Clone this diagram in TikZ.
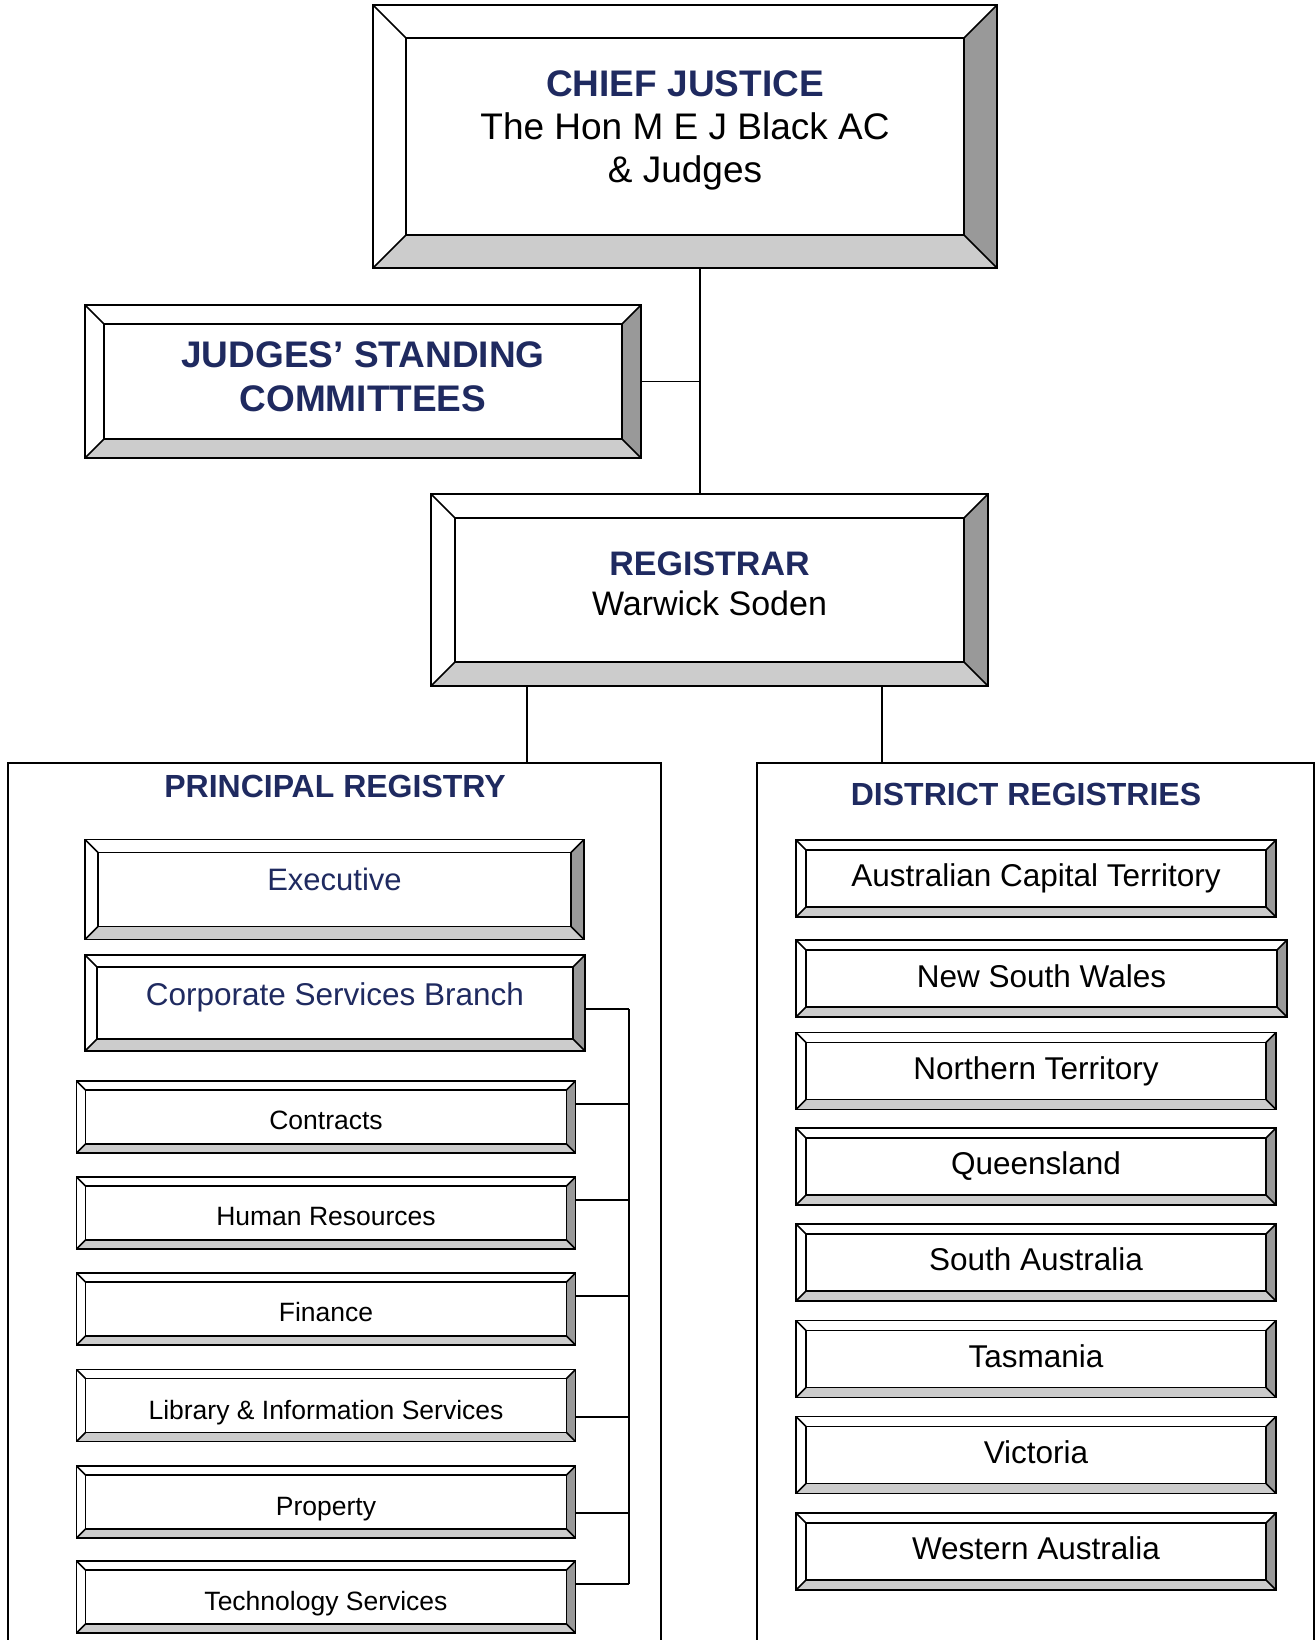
\documentclass[tikz,border=0pt]{standalone}
\usepackage{fontspec}
\setmainfont{Liberation Sans}
\usetikzlibrary{calc}
\definecolor{navy}{RGB}{31,42,96}
\definecolor{bevdark}{RGB}{153,153,153}
\definecolor{bevlight}{RGB}{204,204,204}
\tikzstyle{line}=[-, line width=1.5pt]
\tikzset{
  bev/.store in=\bw, bev=10pt,
  bevel/.style={draw, line width=1.5pt, inner sep=0pt, bev=#1,
    path picture={
      \coordinate (o1) at (path picture bounding box.north west);
      \coordinate (o2) at (path picture bounding box.north east);
      \coordinate (o3) at (path picture bounding box.south east);
      \coordinate (o4) at (path picture bounding box.south west);
      \coordinate (i1) at ($(o1)+(\bw,-\bw)$);
      \coordinate (i2) at ($(o2)+(-\bw,-\bw)$);
      \coordinate (i3) at ($(o3)+(-\bw,\bw)$);
      \coordinate (i4) at ($(o4)+(\bw,\bw)$);
      \fill[bevdark] (o2) -- (o3) -- (i3) -- (i2) -- cycle;
      \fill[bevlight] (o3) -- (o4) -- (i4) -- (i3) -- cycle;
      \draw (o1) -- (i1) (o2) -- (i2) (o3) -- (i3) (o4) -- (i4);
      \draw (i1) -- (i2) -- (i3) -- (i4) -- cycle;
    }},
  subbox/.style={bevel=9pt, minimum width=499pt, minimum height=72pt},
  distbox/.style={bevel=10pt, minimum width=480pt, minimum height=77pt},
  subtext/.style={font=\fontsize{26.5}{30}\selectfont},
  disttext/.style={font=\fontsize{31.5}{36}\selectfont},
  frame/.style={draw, line width=1.5pt, inner sep=0pt},
  title/.style={text=navy, font=\fontsize{32}{36}\selectfont\bfseries}
}

\begin{document}
\begin{tikzpicture}[x=1pt,y=1pt]
  \path[use as bounding box, fill=white] (0,0) rectangle (1316,-1640);
  \clip (0,0) rectangle (1316,-1640);

  % top of the chart
  \node[bevel=33pt, minimum width=624pt, minimum height=263pt] (chief)
  at (685,-136.5) {};
  \node[align=center, font=\fontsize{37}{43}\selectfont] (chieftext)
  at ($(chief)+(0,6)$)
  {\textcolor{navy}{\bfseries CHIEF JUSTICE}\\The Hon M E J Black AC\\\& Judges};
  \node[bevel=19pt, minimum width=556pt, minimum height=153pt] (jsc)
  at (363,-381.5) {};
  \node[align=center, text=navy, font=\fontsize{37}{44}\selectfont\bfseries]
  (jsctext) at ($(jsc)+(0,5)$) {JUDGES’ STANDING\\COMMITTEES};
  \node[bevel=24pt, minimum width=557pt, minimum height=192pt] (registrar)
  at (709.5,-590) {};
  \node[align=center, font=\fontsize{34}{40}\selectfont] (regtext)
  at ($(registrar)+(0,6)$)
  {\textcolor{navy}{\bfseries REGISTRAR}\\Warwick Soden};

  \coordinate (spine) at (700,0);
  \draw[line] (chief.south -| spine) -- (registrar.north -| spine);
  \draw[line] (jsc.east) -- (jsc.east -| spine);

  % registries
  \node[frame, minimum width=653pt, minimum height=897pt] (principal)
  at (334.5,-1211.5) {};
  \node[frame, minimum width=557pt, minimum height=897pt] (district)
  at (1035.5,-1211.5) {};
  \node[title] (ptitle) at ($(principal.north)+(0.5,-24)$) {PRINCIPAL REGISTRY};
  \node[title] (dtitle) at ($(district.north)+(-9.5,-32)$) {DISTRICT REGISTRIES};

  \coordinate (pdrop) at (527,0);
  \coordinate (ddrop) at (882,0);
  \draw[line] (registrar.south -| pdrop) -- (principal.north -| pdrop);
  \draw[line] (registrar.south -| ddrop) -- (district.north -| ddrop);

  % principal registry
  \node[bevel=13pt, minimum width=499pt, minimum height=100pt] (exec)
  at (334.5,-889.5) {};
  \node[text=navy, font=\fontsize{31}{36}\selectfont] (exectext)
  at ($(exec)+(0,10.5)$) {Executive};
  \node[bevel=12pt, minimum width=500pt, minimum height=96pt] (corp)
  at (335,-1003) {};
  \node[text=navy, font=\fontsize{31.5}{36}\selectfont] (corptext)
  at ($(corp)+(0,6)$) {Corporate Services Branch};

  \node[subbox] (contracts) at (326,-1117) {};
  \node[subbox] (hr) at (326,-1213) {};
  \node[subbox] (finance) at (326,-1309) {};
  \node[subbox] (library) at (326,-1405.5) {};
  \node[subbox] (property) at (326,-1502) {};
  \node[subbox] (tech) at (326,-1597) {};
  \node[subtext] (contractstext) at ($(contracts)+(0,-3)$) {Contracts};
  \node[subtext] (hrtext) at ($(hr)+(0,-3)$) {Human Resources};
  \node[subtext] (financetext) at ($(finance)+(0,-3)$) {Finance};
  \node[subtext] (librarytext) at ($(library)+(0,-7)$)
  {Library \& Information Services};
  \node[subtext] (propertytext) at ($(property)+(0,-7)$) {Property};
  \node[subtext] (techtext) at ($(tech)+(0,-7)$) {Technology Services};

  % corporate services branch lines
  \coordinate (bus) at (629,0);
  \coordinate (tcorp) at ($(corp.east)+(0,-6)$);
  \coordinate (tcontracts) at ($(contracts.east)+(0,13)$);
  \coordinate (thr) at ($(hr.east)+(0,13)$);
  \coordinate (tfinance) at ($(finance.east)+(0,13)$);
  \coordinate (tlibrary) at ($(library.east)+(0,-11.5)$);
  \coordinate (tproperty) at ($(property.east)+(0,-11)$);
  \coordinate (ttech) at ($(tech.east)+(0,13)$);
  \draw[line] (tcorp) -- (tcorp -| bus);
  \draw[line] (tcontracts) -- (tcontracts -| bus);
  \draw[line] (thr) -- (thr -| bus);
  \draw[line] (tfinance) -- (tfinance -| bus);
  \draw[line] (tlibrary) -- (tlibrary -| bus);
  \draw[line] (tproperty) -- (tproperty -| bus);
  \draw[line] (ttech) -- (ttech -| bus);
  \draw[line] (tcorp -| bus) -- (ttech -| bus);

  % district registries
  \node[distbox] (act) at (1036,-878.5) {};
  \node[distbox, minimum width=491pt] (nsw) at (1041.5,-978.5) {};
  \node[distbox] (nt) at (1036,-1071) {};
  \node[distbox] (qld) at (1036,-1166.5) {};
  \node[distbox] (sa) at (1036,-1262.5) {};
  \node[distbox] (tas) at (1036,-1359) {};
  \node[distbox] (vic) at (1036,-1455) {};
  \node[distbox] (wa) at (1036,-1551.5) {};
  \node[disttext] (acttext) at (act) {Australian Capital Territory};
  \node[disttext] (nswtext) at ($(nsw)+(0,2)$) {New South Wales};
  \node[disttext] (nttext) at (nt) {Northern Territory};
  \node[disttext] (qldtext) at (qld) {Queensland};
  \node[disttext] (satext) at ($(sa)+(0,3)$) {South Australia};
  \node[disttext] (tastext) at ($(tas)+(0,3)$) {Tasmania};
  \node[disttext] (victext) at ($(vic)+(0,3)$) {Victoria};
  \node[disttext] (watext) at ($(wa)+(0,3)$) {Western Australia};
\end{tikzpicture}
\end{document}
